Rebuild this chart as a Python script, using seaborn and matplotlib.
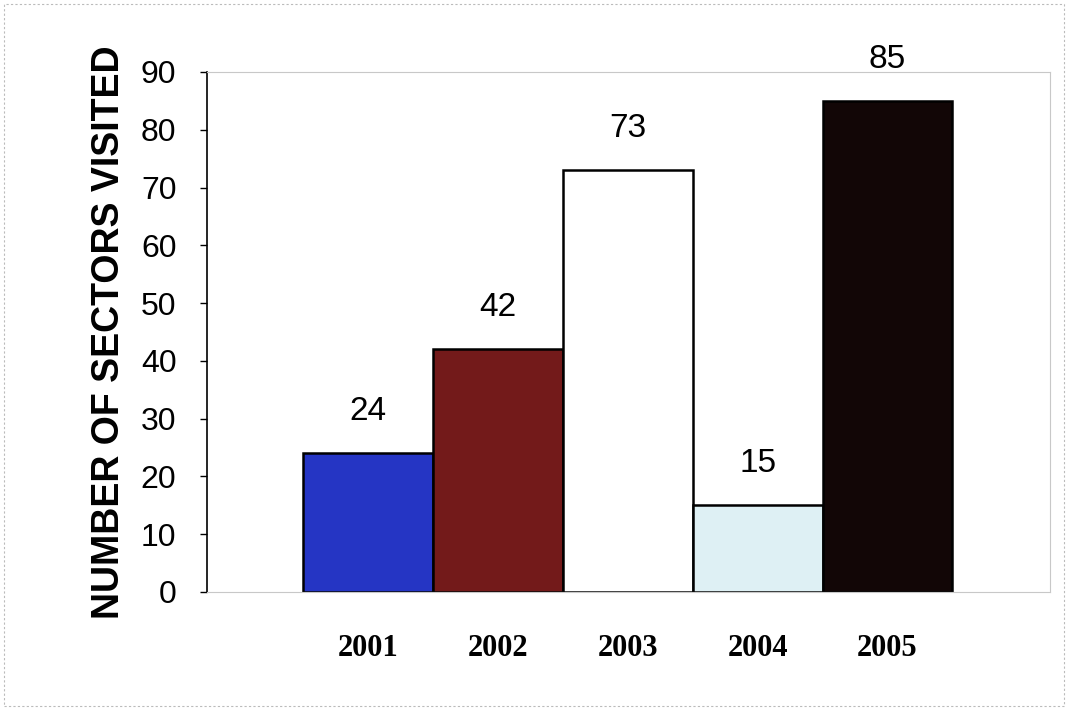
import matplotlib
matplotlib.use("Agg")
import matplotlib.pyplot as plt
import seaborn as sns
import pandas as pd

years = ["2001", "2002", "2003", "2004", "2005"]
sectors = [24, 42, 73, 15, 85]
bar_colors = ["#2535c4", "#731a1a", "#ffffff", "#def0f4", "#120606"]
y_ticks = [0, 10, 20, 30, 40, 50, 60, 70, 80, 90]
y_label = "NUMBER OF SECTORS VISITED"

df = pd.DataFrame({"year": years, "sectors": sectors})

sns.set_theme(style="white")
plt.rcParams["font.family"] = ["Liberation Sans", "DejaVu Sans"]

fig = plt.figure(figsize=(10.68, 7.10), dpi=100)
ax = fig.add_axes([0.1938, 0.1662, 0.7892, 0.7324])

sns.barplot(data=df, x="year", y="sectors", hue="year", palette=bar_colors,
            width=1.0, dodge=False, legend=False, edgecolor="black",
            linewidth=1.8, saturation=1, ax=ax)

ax.set_xlim(-1.24, 5.25)
ax.set_ylim(0, 90)
ax.set_yticks(y_ticks)
ax.set_yticklabels([str(t) for t in y_ticks], fontsize=23, color="black")
ax.tick_params(axis="y", direction="out", length=5, width=1, color="black", pad=17, left=True)
ax.tick_params(axis="x", length=0, pad=30)
for lbl in ax.get_xticklabels():
    lbl.set_fontfamily("Liberation Serif")
    lbl.set_fontweight("bold")
    lbl.set_fontsize(22)
    lbl.set_color("black")

ax.set_xlabel("")
ax.set_ylabel(y_label, fontsize=27, fontweight="bold", color="black", labelpad=10)

for side in ["top", "right", "bottom"]:
    ax.spines[side].set_color("#c8c8c8")
    ax.spines[side].set_linewidth(0.8)
ax.spines["left"].set_color("black")
ax.spines["left"].set_linewidth(1.2)

for i, v in enumerate(sectors):
    ax.annotate(str(v), xy=(i, v), xytext=(0, 30), textcoords="offset points",
                ha="center", va="center", fontsize=24, color="black")

# faint page border
fig.patches.append(plt.Rectangle((0.004, 0.006), 0.992, 0.988, transform=fig.transFigure,
                                 fill=False, edgecolor="#bbbbbb", linewidth=0.8, linestyle=(0, (2, 2))))

fig.savefig("out.png", dpi=100)
